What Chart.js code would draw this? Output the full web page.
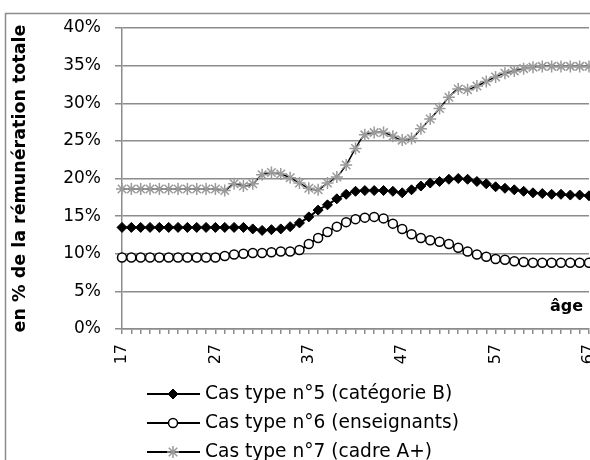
<!DOCTYPE html>
<html><head><meta charset="utf-8">
<script src="https://cdn.jsdelivr.net/npm/chart.js@4/dist/chart.umd.min.js"></script>
<style>html,body{margin:0;padding:0;background:#fff}#wrap{width:590px;height:460px;position:relative;overflow:hidden}</style>
</head><body><div id="wrap"><canvas id="c" width="590" height="460"></canvas></div>
<script>
const ages = [17,18,19,20,21,22,23,24,25,26,27,28,29,30,31,32,33,34,35,36,37,38,39,40,41,42,43,44,45,46,47,48,49,50,51,52,53,54,55,56,57,58,59,60,61,62,63,64,65,66,67];
const tickAges = [17,27,37,47,57,67];
const yTicks = [0,5,10,15,20,25,30,35,40];
const seriesNames = ['Cas type n°5 (catégorie B)','Cas type n°6 (enseignants)','Cas type n°7 (cadre A+)'];
const yTitle = 'en % de la rémunération totale';
const xTitle = 'âge';
// Cas type n°5 (catégorie B)
const cas5 = [13.5,13.5,13.5,13.5,13.5,13.5,13.5,13.5,13.5,13.5,13.5,13.5,13.5,13.5,
  13.3,13.1,13.2,13.3,13.6,14.1,14.9,15.8,16.5,17.3,17.9,18.3,18.4,18.4,18.4,18.3,18.1,18.5,19.0,19.4,19.6,19.9,20.0,19.9,19.6,19.3,18.9,18.7,18.5,18.3,18.1,18.0,17.9,17.9,17.8,17.8,17.7];
// Cas type n°6 (enseignants)
const cas6 = [9.5,9.5,9.5,9.5,9.5,9.5,9.5,9.5,9.5,9.5,9.5,
  9.7,9.9,10.0,10.1,10.1,10.2,10.3,10.3,10.5,11.3,12.1,12.9,13.6,14.2,14.6,14.8,14.9,14.7,14.0,13.3,12.6,12.1,11.8,11.6,11.3,10.8,10.3,9.9,9.6,9.3,9.2,9.0,8.9,
  8.8,8.8,8.8,8.8,8.8,8.8,8.8];
// Cas type n°7 (cadre A+)
const cas7 = [18.6,18.6,18.6,18.6,18.6,18.6,18.6,18.6,18.6,18.6,18.6,
  18.4,19.3,19.0,19.3,20.5,20.8,20.6,20.1,19.4,18.7,18.5,19.4,20.2,21.8,24.0,25.8,26.1,26.1,25.6,25.1,25.3,26.6,27.9,29.3,30.8,31.9,31.8,32.3,32.9,33.5,34.0,34.3,34.6,34.8,
  34.9,34.9,34.9,34.9,34.9,34.9];

const FONT = 'DejaVu Sans';
const GRID = '#8c8c8c';

const datasets = [
  {label: seriesNames[0], data: cas5, borderColor:'#000', backgroundColor:'#000', borderWidth:2,
   pointStyle:'rectRot', pointRadius:5, pointBackgroundColor:'#000', pointBorderColor:'#000', pointBorderWidth:1},
  {label: seriesNames[1], data: cas6, borderColor:'#000', backgroundColor:'#fff', borderWidth:2,
   pointStyle:'circle', pointRadius:4.5, pointBackgroundColor:'#fff', pointBorderColor:'#000', pointBorderWidth:1.5},
  {label: seriesNames[2], data: cas7, borderColor:'#000', backgroundColor:'#9a9a9a', borderWidth:1.5,
   pointStyle:'star', pointRadius:6, pointBackgroundColor:'#9a9a9a', pointBorderColor:'#9a9a9a', pointBorderWidth:1.5}
].map(d => Object.assign(d, {tension:0.35, clip:false, fill:false, pointHoverRadius:d.pointRadius}));

const bgPlugin = {
  id:'bg',
  beforeDraw(chart){
    const ctx = chart.ctx;
    ctx.save();
    ctx.fillStyle = '#fff';
    ctx.fillRect(0,0,chart.width,chart.height);
    ctx.strokeStyle = GRID; ctx.lineWidth = 1.5;
    ctx.beginPath();
    ctx.moveTo(5.5, chart.height); ctx.lineTo(5.5, 13.5); ctx.lineTo(chart.width, 13.5);
    ctx.stroke();
    ctx.restore();
  }
};

const legendPlugin = {
  id:'customLegend',
  afterDraw(chart){
    const ctx = chart.ctx;
    const rows = [394, 423, 452];
    ctx.save();
    chart.data.datasets.forEach((ds, i) => {
      const y = rows[i];
      ctx.strokeStyle = '#000'; ctx.lineWidth = 2;
      ctx.beginPath(); ctx.moveTo(147, y); ctx.lineTo(200, y); ctx.stroke();
      ctx.fillStyle = ds.pointBackgroundColor; ctx.strokeStyle = ds.pointBorderColor; ctx.lineWidth = ds.pointBorderWidth;
      Chart.helpers.drawPoint(ctx, {pointStyle: ds.pointStyle, radius: ds.pointRadius, borderWidth: ds.pointBorderWidth, rotation:0}, 173, y);
      ctx.fillStyle = '#000';
      ctx.font = '18.6px "' + FONT + '"';
      ctx.textAlign = 'left'; ctx.textBaseline = 'middle';
      ctx.fillText(ds.label, 205, y);
    });
    ctx.font = 'bold 16px "' + FONT + '"';
    ctx.textAlign = 'right'; ctx.textBaseline = 'alphabetic';
    ctx.fillStyle = '#000';
    ctx.fillText(xTitle, 583, 311);
    ctx.restore();
  }
};

new Chart(document.getElementById('c').getContext('2d'), {
  type:'line',
  data:{ labels: ages.map(String), datasets },
  options:{
    responsive:false, animation:false, devicePixelRatio:1,
    layout:{ autoPadding:false, padding:{ top:28, right:1, left:0, bottom:0 } },
    plugins:{ legend:{display:false}, tooltip:{enabled:false} },
    scales:{
      x:{ type:'category', offset:false,
        grid:{ drawOnChartArea:false, drawTicks:true, tickLength:5, color:GRID, lineWidth:1.5 },
        border:{ display:true, color:GRID, width:1.5 },
        ticks:{ autoSkip:false, maxRotation:90, minRotation:90, padding:10, color:'#000',
          font:{ family:FONT, size:16 },
          callback:(v, i) => tickAges.includes(ages[i]) ? String(ages[i]) : '' },
        afterFit:s => { s.height = 131; s.paddingLeft = 0; s.paddingRight = 0; }
      },
      y:{ min:0, max:40,
        afterBuildTicks:s => { s.ticks = yTicks.map(v => ({value:v})); },
        grid:{ color:GRID, lineWidth:1.5, tickLength:7 },
        border:{ display:true, color:GRID, width:1.5 },
        ticks:{ padding:14, color:'#000', font:{ family:FONT, size:17 }, callback:v => v + '%' },
        title:{ display:true, text:yTitle, color:'#000', font:{ family:FONT, size:17.5, weight:'bold' }, padding:{ top:10, bottom:0 } },
        afterFit:s => { s.width = 122; s.paddingTop = 0; s.paddingBottom = 0; }
      }
    }
  },
  plugins:[bgPlugin, legendPlugin]
});
</script>
</body></html>
